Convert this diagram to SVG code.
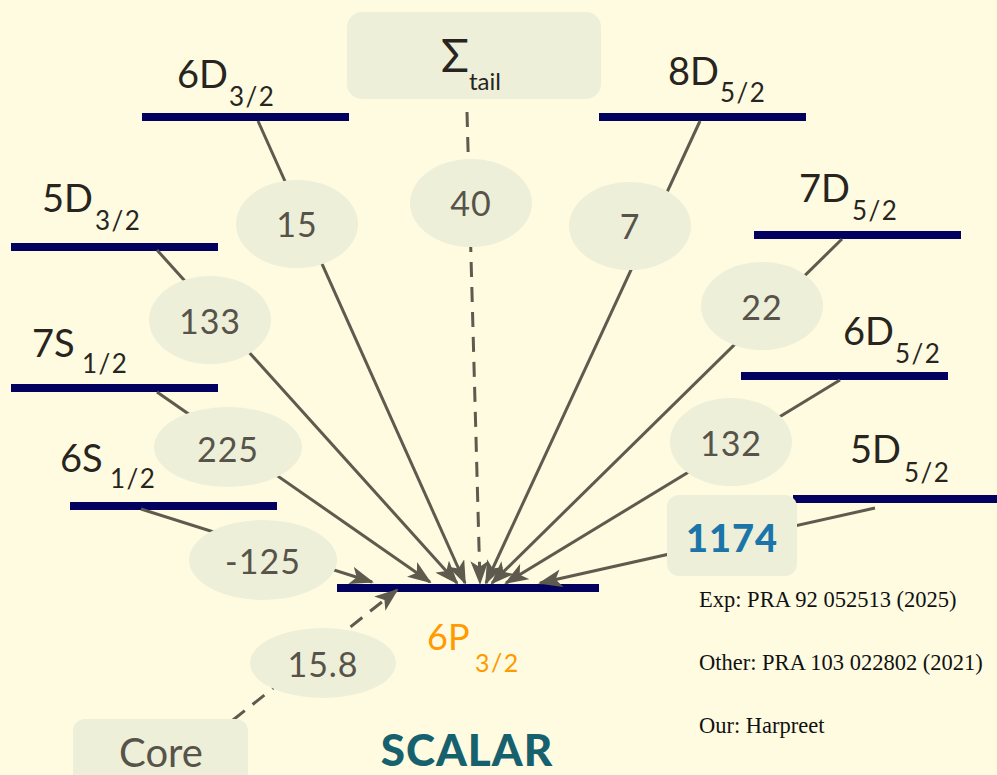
<svg xmlns="http://www.w3.org/2000/svg" width="997" height="775" viewBox="0 0 997 775">
<defs>
<style>
.bg{fill:#FEFBE1}
.lvl{fill:#02025E}
.lab{font-family:Lato,"Noto Sans",sans-serif;fill:#27251D}
.big{font-size:38px}
.sub{font-size:26px;letter-spacing:1.5px}
.bub{fill:#EDEFD9}
.num{font-family:Lato,"Noto Sans",sans-serif;font-size:34px;fill:#57534A;text-anchor:middle;letter-spacing:1px}
.con{stroke:#5E5A4D;stroke-width:3;fill:none}
.dash{stroke-dasharray:15 10}
.ref{font-family:"Liberation Serif",serif;font-size:22.5px;fill:#111}
</style>
<marker id="ah" markerUnits="userSpaceOnUse" markerWidth="24" markerHeight="18" viewBox="0 0 24 18" refX="22" refY="9" orient="auto">
<path d="M0,0 L24,9 L0,18 L6,9 Z" fill="#5E5A4D"/>
</marker>
</defs>
<rect class="bg" x="0" y="0" width="997" height="775"/>

<g id="level-6D32">
<rect class="lvl" x="142" y="113" width="207" height="8"/>
<text class="lab big" x="177" y="88">6D</text><text class="lab sub" x="229" y="106">3/2</text>
</g>
<g id="level-5D32">
<rect class="lvl" x="11" y="243" width="207" height="8"/>
<text class="lab big" x="42" y="212">5D</text><text class="lab sub" x="95" y="230">3/2</text>
</g>
<g id="level-7S12">
<rect class="lvl" x="11" y="384" width="207" height="8"/>
<text class="lab big" x="32" y="357">7S</text><text class="lab sub" x="82" y="373">1/2</text>
</g>
<g id="level-6S12">
<rect class="lvl" x="70" y="502" width="207" height="8"/>
<text class="lab big" x="60" y="472">6S</text><text class="lab sub" x="110" y="488">1/2</text>
</g>
<g id="level-8D52">
<rect class="lvl" x="599" y="113" width="207" height="8"/>
<text class="lab big" x="668" y="85">8D</text><text class="lab sub" x="720" y="102">5/2</text>
</g>
<g id="level-7D52">
<rect class="lvl" x="754" y="231" width="207" height="8"/>
<text class="lab big" x="799" y="202">7D</text><text class="lab sub" x="852" y="220">5/2</text>
</g>
<g id="level-6D52">
<rect class="lvl" x="741" y="372" width="207" height="8"/>
<text class="lab big" x="843" y="345">6D</text><text class="lab sub" x="895" y="363">5/2</text>
</g>
<g id="level-5D52">
<rect class="lvl" x="793" y="495" width="210" height="8"/>
<text class="lab big" x="850" y="463">5D</text><text class="lab sub" x="904" y="482">5/2</text>
</g>
<g id="level-6P32">
<rect class="lvl" x="337" y="584" width="262" height="8"/>
<text class="lab" x="427" y="650" style="font-size:36px;fill:#FF9A00">6P</text><text class="lab" x="475" y="672" style="font-size:25px;fill:#FF9A00;letter-spacing:1.5px">3/2</text>
</g>

<g id="connectors">
<line class="con" x1="258" y1="121" x2="465" y2="583" marker-end="url(#ah)"/>
<line class="con" x1="157" y1="250" x2="457" y2="583" marker-end="url(#ah)"/>
<line class="con" x1="157" y1="392" x2="430" y2="582" marker-end="url(#ah)"/>
<line class="con" x1="141" y1="509" x2="372" y2="582" marker-end="url(#ah)"/>
<line class="con dash" x1="467" y1="112" x2="480" y2="583" marker-end="url(#ah)"/>
<line class="con" x1="700" y1="121" x2="486" y2="583" marker-end="url(#ah)"/>
<line class="con" x1="842" y1="239" x2="492" y2="583" marker-end="url(#ah)"/>
<line class="con" x1="840" y1="380" x2="506" y2="583" marker-end="url(#ah)"/>
<line class="con" x1="875" y1="508" x2="540" y2="583" marker-end="url(#ah)"/>
<line class="con dash" x1="233" y1="720" x2="397" y2="590" marker-end="url(#ah)"/>
</g>

<g id="sigma-tail">
<rect class="bub" x="347" y="12" width="254" height="87" rx="15"/>
<text class="lab" x="441" y="72" style="font-size:46px">Σ</text><text class="lab" x="469" y="90" style="font-size:24px">tail</text>
</g>
<g id="core">
<rect class="bub" x="73" y="719" width="175" height="70" rx="12"/>
<text class="num" x="161" y="767" style="font-size:40px;letter-spacing:0">Core</text>
</g>
<g id="total-1174">
<rect class="bub" x="667" y="495" width="130" height="81" rx="12"/>
<text x="732" y="552" style="font-family:Lato,'Noto Sans',sans-serif;font-size:38px;font-weight:900;fill:#1B75A8;text-anchor:middle;letter-spacing:1px">1174</text>
</g>
<g id="c15"><ellipse class="bub" cx="297" cy="224" rx="61" ry="44"/><text class="num" x="297" y="237">15</text></g>
<g id="c40"><ellipse class="bub" cx="471" cy="203" rx="61" ry="44"/><text class="num" x="471" y="216">40</text></g>
<g id="c7"><ellipse class="bub" cx="630" cy="226" rx="61" ry="44"/><text class="num" x="630" y="239">7</text></g>
<g id="c133"><ellipse class="bub" cx="210" cy="320" rx="61" ry="44"/><text class="num" x="210" y="334">133</text></g>
<g id="c22"><ellipse class="bub" cx="762" cy="306" rx="61" ry="44"/><text class="num" x="762" y="320">22</text></g>
<g id="c225"><ellipse class="bub" cx="228" cy="447" rx="74" ry="40"/><text class="num" x="228" y="462">225</text></g>
<g id="c132"><ellipse class="bub" cx="731" cy="442" rx="61" ry="44"/><text class="num" x="731" y="456">132</text></g>
<g id="cm125"><ellipse class="bub" cx="263" cy="560" rx="74" ry="40"/><text class="num" x="263" y="574">-125</text></g>
<g id="c158"><ellipse class="bub" cx="323" cy="663" rx="73" ry="35"/><text class="num" x="323" y="677">15.8</text></g>

<g id="title">
<text x="467" y="766" style="font-family:Lato,'Noto Sans',sans-serif;font-size:44px;font-weight:900;fill:#17616E;text-anchor:middle;letter-spacing:1px">SCALAR</text>
</g>
<g id="refs">
<text class="ref" x="699" y="607">Exp: PRA 92 052513 (2025)</text>
<text class="ref" x="699" y="670">Other: PRA 103 022802 (2021)</text>
<text class="ref" x="699" y="733">Our: Harpreet</text>
</g>
</svg>
